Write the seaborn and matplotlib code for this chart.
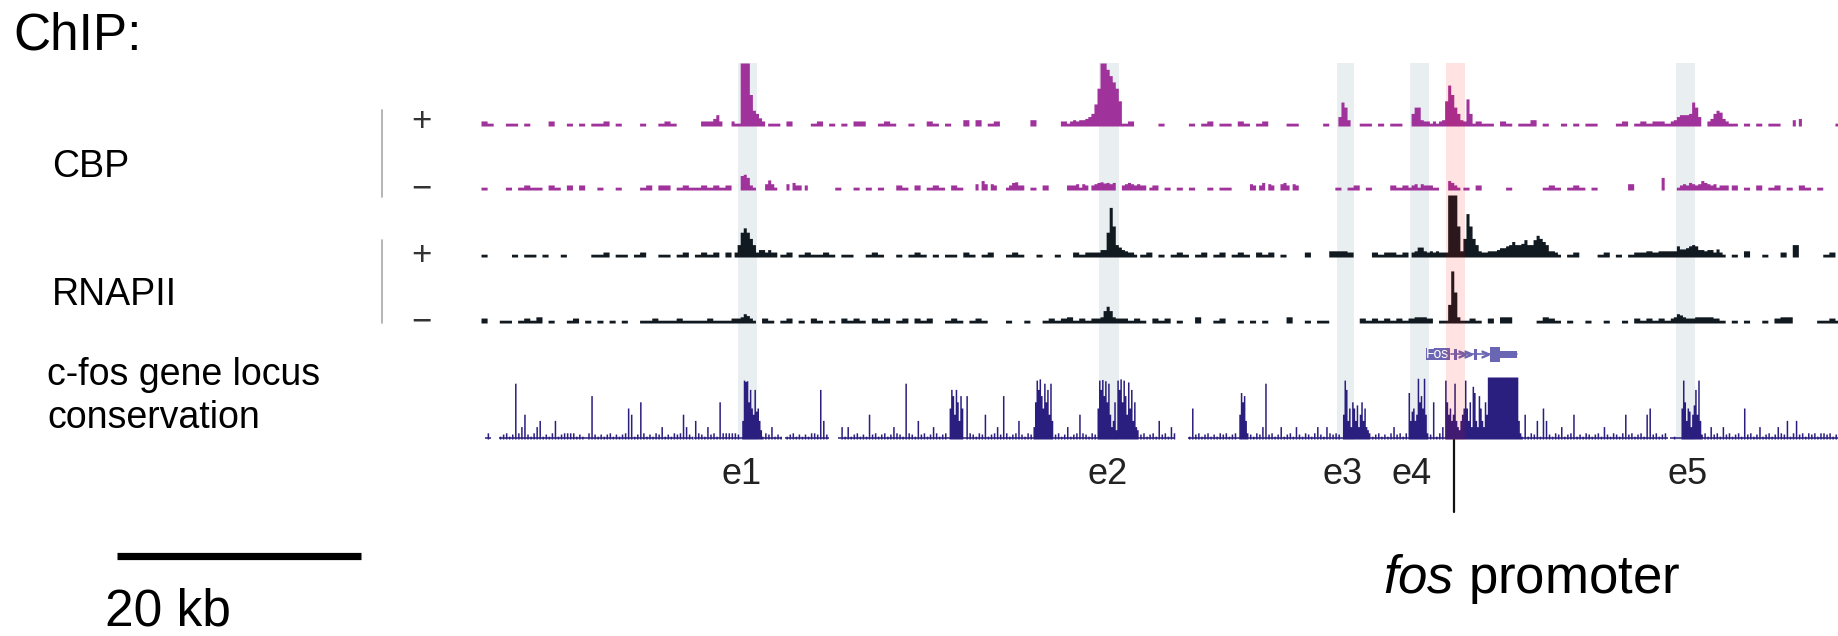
import numpy as np
import pandas as pd
import seaborn as sns
import matplotlib.pyplot as plt
from matplotlib.patches import Rectangle

sns.set_theme(style='white')
plt.rcParams['font.family'] = ['Liberation Sans', 'DejaVu Sans']
plt.rcParams['text.color'] = 'black'
plt.rcParams['mathtext.fontset'] = 'custom'
plt.rcParams['mathtext.rm'] = 'Liberation Sans'
plt.rcParams['mathtext.it'] = 'Liberation Sans:italic'

#%% Region and canvas (pixels of the 1838x636 picture)
W, H = 1838, 636
X0 = 481              # left edge of the browser window
REGION_KB = 111.25    # width of the browser window in kb
CHIP_BIN = 0.25       # kb per bin, ChIP tracks
CONS_BIN = 0.125      # kb per bin, conservation
BG_STEP = 0.5         # kb per background character, ChIP tracks
CONS_BG_STEP = 0.25   # kb per background character, conservation

# signal levels in tenths of the track height
LEVEL = {' ': 0, '.': 0.45, ':': 0.8, 'X': 10}
LEVEL.update({str(d): d for d in range(1, 10)})

#%% CBP ChIP, + strand
cbp_plus_bg = [":.  .. .   :  . . ..",
               ": .   .  .:.        ",
               " .     .. :   .: . .",
               " ::  .:.  .  :. .  1",
               " 1 .:     1    :.   ",
               "     .:    .    . .:",
               " .. :. .:   ..    . ",
               "    .. . ..         ",
               "   :.. :. ..1 .  . .",
               " ..   .: .:.::.     ",
               "     . . . ..       ",
               "  ."]
cbp_plus_peaks = [(18.0, [.8, .8, .8, .8, 1.2, 1.8, .8]),
                  (20.5, [.8]),
                  (21.0, [.45, 10, 10, 10, 5, 2.5, 2, 1.3, .8]),
                  (48.25, [.8, 1, .8, 1, 1, 1.2, 1.5, 2, 3.5, 6, 10, 10, 9, 8, 7, 6, 4]),
                  (70.25, [1.5, 3.8, 3, 1]),
                  (76.25, [2, 3, 3, 1, .8, .8, .45, .8, .45, .8, 1]),
                  (79.0, [4, 6.5, 5, 3, 2, 1, .8, 4.3, 2, .45]),
                  (97.5, [.8, 1, 1.5, 1.8, 1.8, 1.8, 2, 3.8, 3, 1.5, 0, 0,
                          .8, 1.2, 2, 2.5, 2.2, 1.2, .8, .45]),
                  (107.5, [1, 0, 1.2])]

#%% CBP ChIP, - strand
cbp_minus_bg = [".   . .:.. :. : :  .",
                "  .   .: :: .:..:.:.",
                ":   .       :     . ",
                " . . .  :. : .:. :. ",
                "      .   . :   :   ",
                "        :.: . . .  .",
                " ..                 ",
                ". .: .   :.:.  :.   ",
                " . :    .     .:. .:",
                ". .     1           ",
                "       . : .: . :. .",
                "   "]
cbp_minus_peaks = [(21.25, [2.3, 2.5, 2, .8]),
                   (23.25, [1, 1.6, 1, .45]),
                   (25.0, [1, 0, 1.2, .8, .8, 0, .8]),
                   (40.5, [1, 0, 1.5, 1, 0, 1, .8]),
                   (43.25, [.8, 1.2, 1.3, .8, .8]),
                   (48.5, [.8, 1, .45, 1, .8, 0, .8, 1, 1.2, 1.3, 1.1, 1.2, 1, 1.2, 0, 0,
                           .8, 1, 1.2, 1, .8, 1, .8, .8, 0, .45]),
                   (63.0, [1, .8, 0, .8, 1.2, 0, 1, .8, 0, 0, 1, 1.2, .8, 0, 1, .8]),
                   (76.25, [.8, 1, .45, 1, .8]),
                   (79.25, [1.5, 1.2, .8, .45]),
                   (96.75, [2]),
                   (98.0, [.45, .8, 1, .8, 1.2, 1, .8, 1, 1.5, 1.2, 1, .8, 1, .45, .8, .8, .8, 0, .8, .8])]

#%% RNAPII ChIP, + strand
rnap_plus_bg = [".    . .. .  .    ..",
                ": .. .:  .. .: .:.: ",
                ":        .: .:..:. .",
                ".  .:.  . .:. . .. :",
                ". .:  .:.  .  .  :.:",
                ":       .: . .:. .: ",
                ".: .:. :.: .   :   1",
                "11:   :.::.:     :  ",
                "                . .:",
                "   .: . .::1:111    ",
                "     . 1  .  : 2    ",
                ".: "]
rnap_plus_peaks = [(20.75, [.8, 2, 4, 4.7, 4, 3, 2, .8, 1.2, 1.2, .8, 1.2, .8, .8]),
                   (50.5, [.8, 1.2, 1.2, 4, 8, 5, 2, 1.6, 1.2, 1, .8, .8, .45]),
                   (76.25, [.8, 1, 1.6, 1.6, 1, .8, 1, .8, 1]),
                   (79.0, [.8, 10, 10, 10, 5, 1, 3, 7, 5, 3, 2, 1, .8, .8, 1, 1, 1, 1.2, 1.5,
                           1.5, 1.8, 2, 2.5, 2, 2, 2.2, 2.8, 2, 2, 2.8, 3.5, 3, 2.5, 2, 1, 1, .8]),
                   (97.75, [1, 1.8, 1.3, 1.3, 1.5, 1.8, 2, 1.8, 1.2, 1.2, 1, 1.2, 1.2, .8, 1.3, .8, .45])]

#%% RNAPII ChIP, - strand
rnap_minus_bg = [":  .. .:.1 .  .: . .",
                 " . .  ..:...:....:..",
                 ".:    :. .: . :. . :",
                 ".:. :.: .: :.:  .:. ",
                 ".:.   .  .  .:.:1.:.",
                 ":    :.:. :.: .  1  ",
                 ".:  . . .   1  . .. ",
                 "    :.:.:.:.:11: .  ",
                 " .:. : 11    .1:. . ",
                 " .  .  . :.:.:.:  :1",
                 "11:. . .  . :11    .",
                 ".:."]
rnap_minus_peaks = [(21.0, [.8, 1, 1.5, 1.2, .8, .45]),
                    (50.5, [.8, 1, 2, 2.7, 2, 1, .8, .8]),
                    (79.0, [.45, 3, 8.4, 5, 1, .45]),
                    (97.75, [1, 1.5, 1.3, 1, .8])]

#%% Conservation (one thin spike per background character, blocks for dense runs)
cons_bg = ["  1   .:1.:9124:.123.:.13.:1111.:. 17:.:",
           ".:1.:.:154.:61.:.1:2.:.1:142:.31:.2:1.61",
           "1111:      :.1:2.:. .:1.:.:.11:83:    2.",
           "2.:1.:.4:1.:1.:21:.91:.3:1.:21.:1      7",
           "1:.1:4.:12:71.:13:.1:2      :1.:2.:141:.",
           "1:              :1.:1.3:1.21    .5:1.:1.",
           ":.1:1.:1   1:.1:29:1.:2.:1.2:.1:.12:.21:",
           "1:         1.:1.:.12:1.1      1:6.12    ",
           "                    :.4.1:3.53:.1:2.:14.",
           ":.1:.:1.2:.1:.14:1.:1.45:1.:1  .       1",
           ":1.2:1.2:1.:1.5:1.:2.:1.:21:3.13:1.1:1.1",
           "1:1.:"]
cons_peaks = [(21.375, [3, 9.5, 9.3, 9.4, 6, 8, 5, 4, 8, 4.5, 5, 3, 1.5]),
              (38.375, [5, 8, 7, 4, 8, 6, 3, 7, 5]),
              (45.375, [6, 9.5, 8, 9.7, 7, 5, 9, 6, 8, 4, 9, 3]),
              (50.5, [5, 9.5, 8, 9.6, 7, 9.4, 6, 9, 4, 2, 3, 6, 1.5, 9.5, 8, 9.7, 6, 9.5, 7, 4,
                      9.2, 5, 8, 3, 6, 2, 1.5]),
              (62.125, [4, 7.5, 6, 7, 3]),
              (70.625, [4, 9.5, 8, 3, 5, 2, 6, 5, 3, 5.5, 2, 4, 6, 3, 5, 2, 1.5]),
              (76.0, [7.5, 3, 4.5, 5, 3, 4, 9.8, 6, 7, 5, 9.8, 4]),
              (79.0, [9.5, 6, 4, 5, 3, 4, 9, 3, 2, 1.5, 3, 4, 5, 9.5, 5, 3, 6, 2, 8.5, 7.5,
                      3, 2, 7, 5, 3, 2, 6, 4,
                      10, 10, 10, 10, 10, 10, 10, 10, 10, 10,
                      10, 10, 10, 10, 10, 10, 10, 10, 10, 10, 3, 1]),
              (98.375, [5, 9.5, 6, 3, 5, 4.5, 2, 4, 5.5, 8, 4, 9.5, 3])]
cons_baseline = [(0.3, 0.8), (1.5, 17.3), (17.5, 24.7), (24.9, 28.5),
                 (29.3, 56.9), (58.0, 97.3), (97.5, 111.25)]

#%% Annotations
enh_names = ['e1', 'e2', 'e3', 'e4', 'e5']
enh_start = [21.1, 50.7, 70.2, 76.2, 97.95]
enh_end = [22.6, 52.3, 71.6, 77.7, 99.5]
enh_label_kb = [21.4, 51.4, 70.6, 76.3, 98.9]
prom_band = (79.1, 80.7)
prom_kb = 79.8
fos_span = (79.55, 84.9)
fos_exons = [(79.75, 80.0), (81.4, 81.65)]
fos_last_exon = (82.7, 83.5)
fos_utr = (83.5, 84.9)
fos_arrows = [80.4, 80.9, 82.3]
fos_box = (77.46, 79.43)
scale_kb = 20

MAGENTA = '#a0339b'
BLACK = '#121a21'
NAVY = '#2a1f7f'
GENE = '#6b66b3'
BAND = '#e9eef1'

#%% Build the binned signal
def build_track(bg, peaks, binw, step, spike=False):
    n = int(round(REGION_KB / binw))
    per = int(round(step / binw))
    seg = int(round(10 / step))
    chars = ''.join(s.ljust(seg)[:seg] for s in bg[:-1]) + bg[-1]
    vals = np.zeros(n)
    for j, ch in enumerate(chars):
        i = j * per
        if i >= n:
            break
        if spike:
            vals[i] = LEVEL[ch]
        else:
            vals[i:i + per] = LEVEL[ch]
    for start, lv in peaks:
        i0 = int(round(start / binw))
        lv = np.array(lv[:n - i0], dtype=float)
        vals[i0:i0 + len(lv)] = lv
    df = pd.DataFrame({'kb': (np.arange(n) + 0.5) * binw,
                       'signal': np.clip(vals / 10, 0, 1)})
    return df


tracks = [  # name, data, colour, baseline px, height px
    ('CBP+', build_track(cbp_plus_bg, cbp_plus_peaks, CHIP_BIN, BG_STEP), MAGENTA, 126, 63),
    ('CBP-', build_track(cbp_minus_bg, cbp_minus_peaks, CHIP_BIN, BG_STEP), MAGENTA, 190, 63),
    ('RNAPII+', build_track(rnap_plus_bg, rnap_plus_peaks, CHIP_BIN, BG_STEP), BLACK, 257, 62),
    ('RNAPII-', build_track(rnap_minus_bg, rnap_minus_peaks, CHIP_BIN, BG_STEP), BLACK, 323, 62),
]
cons = build_track(cons_bg, cons_peaks, CONS_BIN, CONS_BG_STEP, spike=True)

#%% Figure
fig = plt.figure(figsize=(W / 100, H / 100), dpi=100)


def px_axes(x0, y_top, x1, y_bot, z):
    ax = fig.add_axes([x0 / W, 1 - y_bot / H, (x1 - x0) / W, (y_bot - y_top) / H])
    ax.set_zorder(z)
    ax.patch.set_alpha(0)
    ax.axis('off')
    return ax


# kb-wide axes over the whole height, y in pixels
ax_under = px_axes(X0, 0, W, H, 0)
ax_over = px_axes(X0, 0, W, H, 3)
for a in (ax_under, ax_over):
    a.set_xlim(0, REGION_KB)
    a.set_ylim(H, 0)

for s, e in zip(enh_start, enh_end):
    ax_under.add_patch(Rectangle((s, 63), e - s, 377, color=BAND, lw=0))
ax_over.add_patch(Rectangle((prom_band[0], 63), prom_band[1] - prom_band[0], 377,
                            color='red', alpha=0.11, lw=0))

# ChIP tracks
for name, df, col, base, hgt in tracks:
    ax = px_axes(X0, base - hgt, W, base, 2)
    sns.histplot(data=df, x='kb', weights='signal', binwidth=CHIP_BIN, binrange=(0, REGION_KB),
                 element='step', fill=True, color=col, alpha=1, linewidth=0, ax=ax)
    ax.set_xlim(0, REGION_KB)
    ax.set_ylim(0, 1)
    ax.axis('off')

# conservation
ax_c = px_axes(X0, 377, W, 439, 2)
sns.histplot(data=cons, x='kb', weights='signal', binwidth=CONS_BIN, binrange=(0, REGION_KB),
             element='step', fill=True, color=NAVY, alpha=1, linewidth=0, ax=ax_c)
for s, e in cons_baseline:
    ax_c.plot([s, e], [0.01, 0.01], color=NAVY, lw=1.1, solid_capstyle='butt')
ax_c.set_xlim(0, REGION_KB)
ax_c.set_ylim(0, 1)
ax_c.axis('off')

# Fos gene model
ax_under.plot(fos_span, [354, 354], color=GENE, lw=1.2, zorder=3)
for s, e in fos_exons:
    ax_under.add_patch(Rectangle((s, 349), e - s, 11, color=GENE, lw=0, zorder=3))
ax_under.add_patch(Rectangle((fos_last_exon[0], 347), fos_last_exon[1] - fos_last_exon[0], 15,
                             color=GENE, lw=0, zorder=3))
ax_under.add_patch(Rectangle((fos_utr[0], 351), fos_utr[1] - fos_utr[0], 7, color=GENE, lw=0, zorder=3))
ax_under.plot(fos_arrows, [354] * len(fos_arrows), ls='none', marker='$>$', ms=5, color=GENE, zorder=3)
ax_under.add_patch(Rectangle((fos_box[0], 348), fos_box[1] - fos_box[0], 12, color=GENE, lw=0, zorder=3))
ax_under.text(sum(fos_box) / 2, 354.5, 'Fos', color='white', fontsize=10, ha='center', va='center', zorder=4)

# enhancer labels and promoter mark
for name, x in zip(enh_names, enh_label_kb):
    ax_over.text(x, 474, name, fontsize=26, color='#222222', ha='center', va='center')
ax_over.plot([prom_kb, prom_kb], [440, 512], color='#111111', lw=1.6)

# left-hand labels, strands and scale bar, in canvas pixels
ax_full = px_axes(0, 0, W, H, 4)
ax_full.set_xlim(0, W)
ax_full.set_ylim(H, 0)
ax_full.text(13, 50, 'ChIP:', fontsize=37, va='baseline')
ax_full.text(52, 177, 'CBP', fontsize=27, va='baseline')
ax_full.text(52, 305, 'RNAPII', fontsize=27, va='baseline')
ax_full.text(47, 385, 'c-fos gene locus', fontsize=27, va='baseline')
ax_full.text(47, 428, 'conservation', fontsize=27, va='baseline')
for y, sym in zip([122, 189, 256, 322], ['+', '\u2212', '+', '\u2212']):
    ax_full.text(421, y, sym, fontsize=25, color='#333333', ha='center', va='center')
ax_full.plot([382, 382], [110, 197], color='#a8a8a8', lw=1.2)
ax_full.plot([382, 382], [240, 323], color='#a8a8a8', lw=1.2)

px_per_kb = (W - X0) / REGION_KB
ax_full.plot([117, 117 + scale_kb * px_per_kb], [556, 556], color='black', lw=5.2, solid_capstyle='butt')
ax_full.text(105, 626, f'{scale_kb} kb', fontsize=37, va='baseline')
ax_full.text(1532, 593, r'$\mathit{fos}$ promoter', fontsize=38, ha='center', va='baseline')

fig.savefig('out.png', dpi=100)
